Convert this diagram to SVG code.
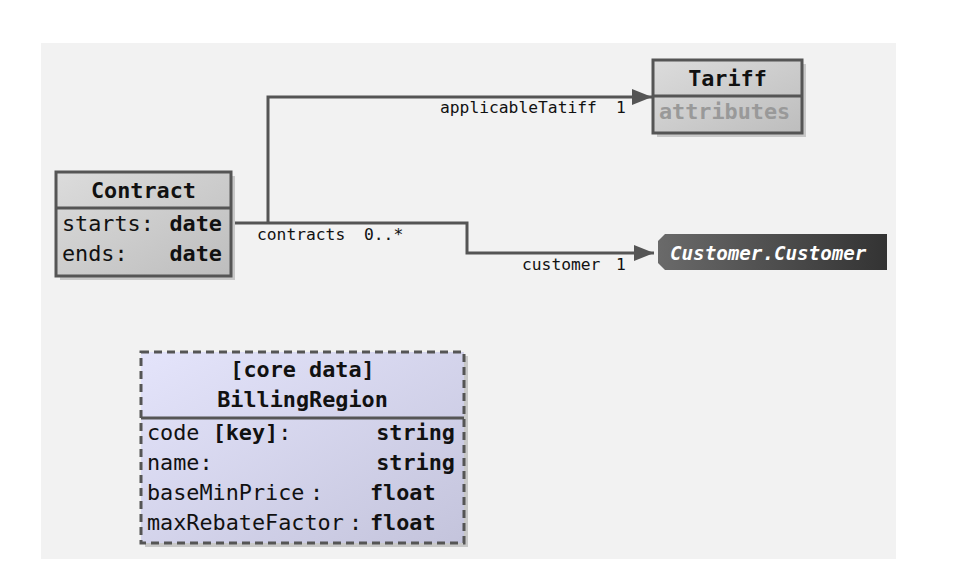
<svg xmlns="http://www.w3.org/2000/svg" width="960" height="588" viewBox="0 0 960 588">
<defs>
<linearGradient id="gGray" x1="0" y1="0" x2="1" y2="1"><stop offset="0" stop-color="#dcdcdc"/><stop offset="1" stop-color="#bdbdbd"/></linearGradient>
<linearGradient id="gBlue" x1="0" y1="0" x2="1" y2="1"><stop offset="0" stop-color="#e4e4fb"/><stop offset="1" stop-color="#c4c4dc"/></linearGradient>
<linearGradient id="gDark" x1="0" y1="0" x2="1" y2="0"><stop offset="0" stop-color="#6a6a6a"/><stop offset="1" stop-color="#333333"/></linearGradient>
<marker id="arr" markerUnits="userSpaceOnUse" markerWidth="22" markerHeight="18" refX="20" refY="8" orient="auto"><path d="M0,0 L20,8 L0,16 Z" fill="#555"/></marker>
<style>
.box{stroke:#555;stroke-width:3}
.sh{fill:#c8c8c8}
.t{font-family:"DejaVu Sans Mono","Liberation Mono",monospace;font-size:21.8px;fill:#111}
.b{font-weight:bold}
.lbl{font-family:"DejaVu Sans Mono","Liberation Mono",monospace;font-size:16.3px;fill:#111}
.con{fill:none;stroke:#555;stroke-width:3}
</style>
</defs>
<rect x="41" y="43" width="855" height="516" fill="#f2f2f2"/>
<g id="connectors">
<path class="con" d="M231,223 H467 V253 H654" marker-end="url(#arr)"/>
<path class="con" d="M268,223 V97 H652" marker-end="url(#arr)"/>
<text class="lbl" x="440" y="113">applicableTatiff</text>
<text class="lbl" x="616" y="113">1</text>
<text class="lbl" x="257" y="240">contracts</text>
<text class="lbl" x="364" y="240">0..*</text>
<text class="lbl" x="522" y="270">customer</text>
<text class="lbl" x="616" y="270">1</text>
</g>
<g id="Contract">
<rect class="sh" x="60" y="176" width="175" height="104"/>
<rect class="box" x="56" y="172" width="175" height="104" fill="url(#gGray)"/>
<line class="box" x1="56" y1="208" x2="231" y2="208"/>
<text class="t b" x="143.5" y="198" text-anchor="middle">Contract</text>
<text class="t" x="62" y="231">starts:</text>
<text class="t b" x="222" y="231" text-anchor="end">date</text>
<text class="t" x="62" y="261">ends:</text>
<text class="t b" x="222" y="261" text-anchor="end">date</text>
</g>
<g id="Tariff">
<rect class="sh" x="657" y="64" width="149" height="73"/>
<rect class="box" x="653" y="60" width="149" height="73" fill="url(#gGray)"/>
<line class="box" x1="653" y1="96" x2="802" y2="96"/>
<text class="t b" x="727.5" y="86" text-anchor="middle">Tariff</text>
<text class="t b" x="659" y="119" style="fill:#999">attributes</text>
</g>
<g id="Customer">
<polygon points="665,234 887,234 887,270 665,270 658,263 658,241" fill="url(#gDark)"/>
<text x="670" y="260" font-family="DejaVu Sans Mono, Liberation Mono, monospace" font-size="19.2" font-weight="bold" font-style="italic" fill="#fff">Customer.Customer</text>
</g>
<g id="BillingRegion">
<rect class="sh" x="145" y="356" width="323" height="191"/>
<rect x="141" y="352" width="323" height="191" fill="url(#gBlue)" stroke="#555" stroke-width="3" stroke-dasharray="8,5"/>
<line class="box" x1="141" y1="418" x2="464" y2="418"/>
<text class="t b" x="302.5" y="377" text-anchor="middle">[core data]</text>
<text class="t b" x="302.5" y="407" text-anchor="middle">BillingRegion</text>
<text class="t" x="147" y="440">code <tspan class="b">[key]</tspan>:</text>
<text class="t b" x="455" y="440" text-anchor="end">string</text>
<text class="t" x="147" y="470">name:</text>
<text class="t b" x="455" y="470" text-anchor="end">string</text>
<text class="t" x="147" y="500">baseMinPrice</text>
<text class="t" x="310" y="500">:</text>
<text class="t b" x="370" y="500">float</text>
<text class="t" x="147" y="530">maxRebateFactor</text>
<text class="t" x="349" y="530">:</text>
<text class="t b" x="370" y="530">float</text>
</g>
</svg>
